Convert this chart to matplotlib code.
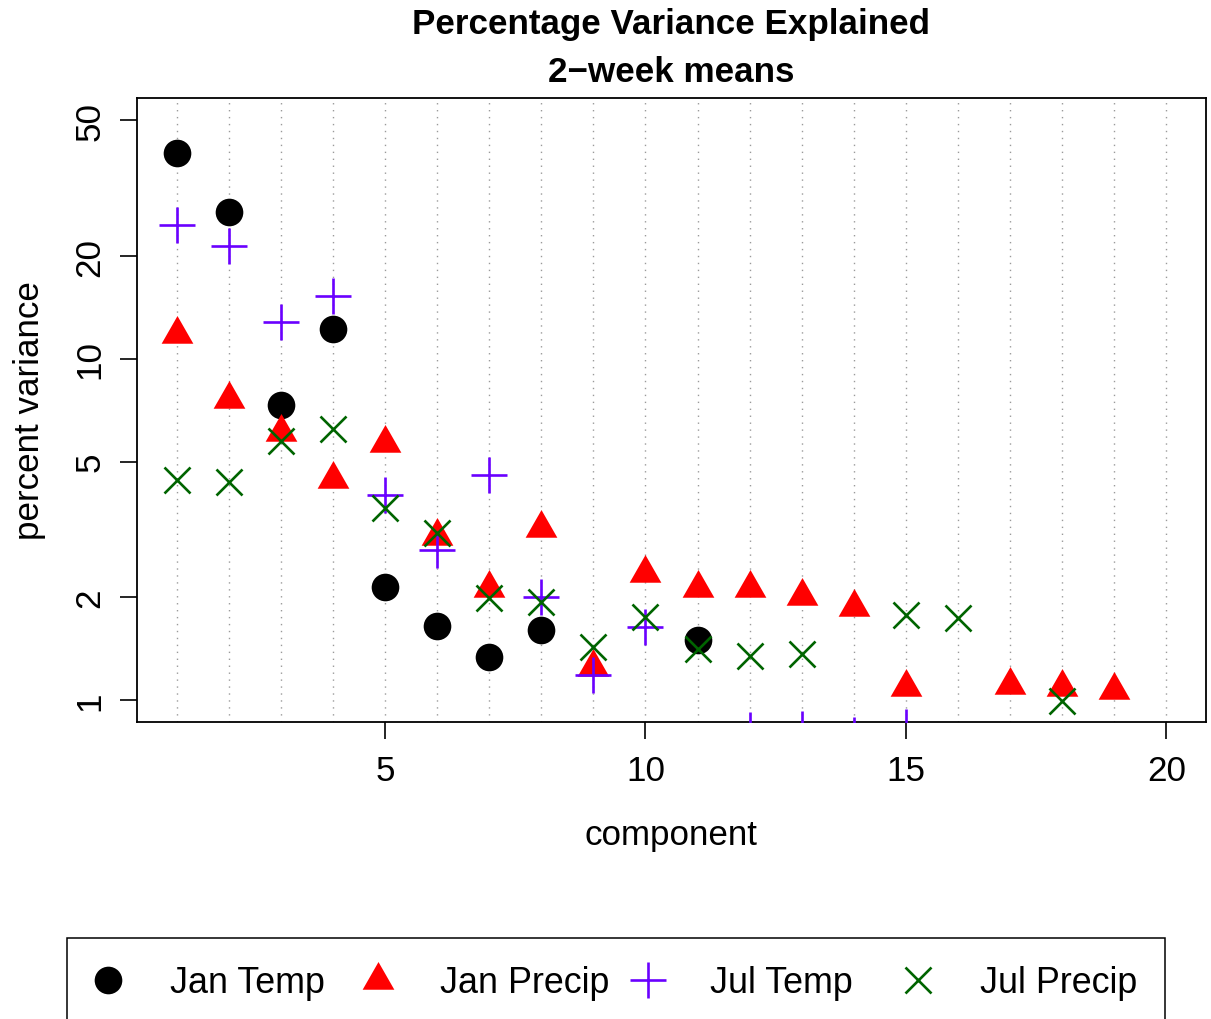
import numpy as np
import matplotlib
matplotlib.use("Agg")
import matplotlib.pyplot as plt
from matplotlib.path import Path
from matplotlib.markers import MarkerStyle
from matplotlib.patches import Rectangle
from matplotlib.lines import Line2D
from matplotlib.ticker import FixedLocator, MultipleLocator, NullLocator, FixedFormatter

plt.rcParams['font.family'] = ['Liberation Sans', 'DejaVu Sans']

# Percentage of variance explained per component (NaN = below plotted range)
components = np.arange(1, 21)
nan = np.nan
jan_temp = [40.2, 27.0, 7.33, 12.2, 2.14, 1.65, 1.34, 1.60, nan, nan,
            1.50, nan, nan, nan, nan, nan, nan, nan, nan, nan]
jan_precip = [11.8, 7.63, 6.11, 4.45, 5.67, 3.03, 2.13, 3.19, 1.25, 2.36,
              2.13, 2.13, 2.02, 1.87, 1.09, nan, 1.11, 1.09, 1.07, nan]
jul_temp = [24.7, 21.4, 12.8, 15.3, 3.99, 2.75, 4.57, 2.00, 1.18, 1.64,
            nan, 0.817, 0.824, 0.789, 0.833, nan, nan, nan, nan, nan]
jul_precip = [4.42, 4.36, 5.75, 6.23, 3.66, 3.09, 1.99, 1.94, 1.43, 1.75,
              1.41, 1.35, 1.36, nan, 1.78, 1.74, nan, 0.995, nan, nan]

series_labels = ["Jan Temp", "Jan Precip", "Jul Temp", "Jul Precip"]
y_ticks = [1, 2, 5, 10, 20, 50]
x_ticks = [5, 10, 15, 20]

FS = 25.2
W, H = 1211, 1020
fig = plt.figure(figsize=(W / 100, H / 100), dpi=100)
ax = fig.add_axes([137 / W, 1 - 723 / H, (1206 - 137) / W, (723 - 99) / H])

# solid triangle whose centroid sits on the data point
tw, th = 31.7, 27.7
tri = MarkerStyle(Path([(0, 2 * th / 3), (tw / 2, -th / 3), (-tw / 2, -th / 3), (0, 2 * th / 3)],
                       [Path.MOVETO, Path.LINETO, Path.LINETO, Path.CLOSEPOLY]))

styles = [
    dict(marker='o', color='black', ms=19.9, mew=0),
    dict(marker=tri, color='#FF0000', ms=26.6, mew=0),
    dict(marker='+', color='#6A00FF', ms=26.4, mew=1.9),
    dict(marker='x', color='#006400', ms=19.2, mew=1.9),
]
series = [jan_temp, jan_precip, jul_temp, jul_precip]

# dotted vertical reference lines at each component
ax.xaxis.set_minor_locator(MultipleLocator(1))
ax.grid(True, which='both', axis='x', color='#9A9A9A', lw=1.0, linestyle=(0, (1, 4)))
ax.set_axisbelow(True)

for vals, st in zip(series, styles):
    ax.plot(components, vals, linestyle='none', marker=st['marker'], color=st['color'],
            ms=st['ms'], mew=st['mew'], mec=st['color'], mfc=st['color'], zorder=3)

ax.set_yscale('log')
ax.set_xlim(0.24, 20.76)
ax.set_ylim(0.862, 58.2)

ax.yaxis.set_major_locator(FixedLocator(y_ticks))
ax.yaxis.set_major_formatter(FixedFormatter([str(v) for v in y_ticks]))
ax.yaxis.set_minor_locator(NullLocator())
ax.xaxis.set_major_locator(FixedLocator(x_ticks))

ax.tick_params(axis='both', which='major', length=12, width=1.2, labelsize=FS, color='black')
ax.tick_params(axis='x', which='major', pad=11)
ax.tick_params(axis='y', which='major', pad=10)
ax.tick_params(axis='x', which='minor', length=0)
for lab in ax.get_yticklabels():
    lab.set_rotation(90)
    lab.set_va('center')

for sp in ax.spines.values():
    sp.set_linewidth(1.3)
    sp.set_color('black')

ax.set_xlabel("component", fontsize=FS, labelpad=22)
ax.set_ylabel("percent variance", fontsize=FS, labelpad=20)
ax.set_title("Percentage Variance Explained\n2\u2212week means", fontsize=FS,
             fontweight='bold', pad=12, linespacing=1.58)

# legend frame along the bottom
fig.add_artist(Rectangle((67 / W, 1 - 1030 / H), (1165 - 67) / W, (1030 - 939) / H,
                         transform=fig.transFigure, fill=False, edgecolor='black', lw=1.1))

# one legend entry per column, evenly spaced
LFS = 25.8
for i, (lab, st) in enumerate(zip(series_labels, styles)):
    h = Line2D([], [], linestyle='none', marker=st['marker'], color=st['color'],
               ms=st['ms'], mew=st['mew'], mec=st['color'], mfc=st['color'])
    x0 = (90.6 + 270 * i) / W
    leg = fig.legend([h], [lab], loc='center left', bbox_to_anchor=(x0, 1 - 984 / H),
                     frameon=False, fontsize=LFS, handlelength=34.7 / (LFS / 0.72),
                     handletextpad=44.6 / (LFS / 0.72),
                     borderpad=0, borderaxespad=0)

fig.savefig("out.png", dpi=100)
